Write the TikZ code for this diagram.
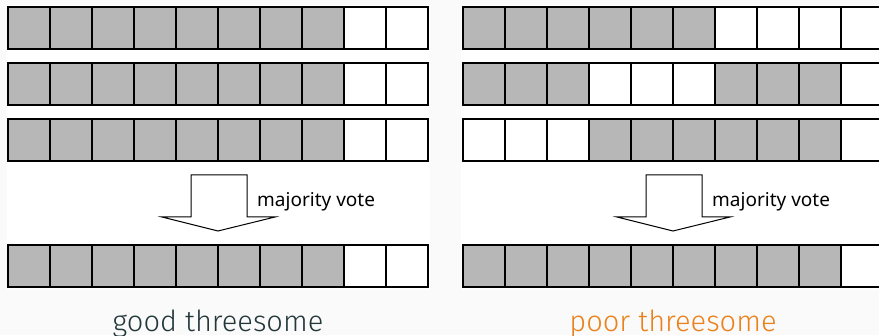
\documentclass[tikz,border=0pt]{standalone}
\usepackage{fontspec}
\setmainfont{Fira Sans}
\newfontfamily\votefont{Noto Sans}
\newfontfamily\capfont{Fira Sans Light}
\usepackage{tikz}
\usetikzlibrary{positioning,calc}
\definecolor{PageBg}{HTML}{FAFAFA}
\definecolor{CellGray}{HTML}{B7B7B7}
\definecolor{TitleDark}{HTML}{23373B}
\definecolor{TitleOrange}{HTML}{EB811B}

\begin{document}
\begin{tikzpicture}[
  x=1pt, y=1pt,
  cell/.style={
    rectangle, draw=black, line width=1.1pt,
    minimum size=42pt, inner sep=0pt, outer sep=0pt
  },
  cell0/.style={fill=white},
  cell1/.style={fill=CellGray},
  vote/.style={draw=black, line width=1pt, fill=white, line join=miter},
  votelbl/.style={font=\votefont\fontsize{19}{22}\selectfont, anchor=base west, inner sep=0pt},
  caption/.style={font=\capfont\fontsize{29}{32}\selectfont, anchor=base, inner sep=0pt}
]

% --- page and panels ---
\fill[PageBg] (0,0) rectangle (879,335);
\useasboundingbox (0,0) rectangle (879,335);
\fill[white] (7,45) rectangle (430,330);
\fill[white] (461,45) rectangle (879,330);

% --- GOOD THREESOME (left) ---
\foreach \r/\y/\pat in {1/307/{1,1,1,1,1,1,1,1,0,0},
                        2/251/{1,1,1,1,1,1,1,1,0,0},
                        3/195/{1,1,1,1,1,1,1,1,0,0},
                        4/69/{1,1,1,1,1,1,1,1,0,0}}
{
  \foreach \v [count=\i] in \pat
  {
    \node[cell, cell\v] (g\r-\i) at (29+42*\i-42, \y) {};
  }
}
\coordinate (gtip) at (218,104);
\draw[vote] (gtip) -- ++(-56,14) -- ++(29,0) -- ++(0,42) -- ++(56,0)
  -- ++(0,-42) -- ++(28,0) -- cycle;
\node[votelbl] (gvote) at (257,128) {majority vote};
\node[caption, text=TitleDark] (good) at (218,4) {good threesome};

% --- POOR THREESOME (right) ---
\foreach \r/\y/\pat in {1/307/{1,1,1,1,1,1,0,0,0,0},
                        2/251/{1,1,1,0,0,0,1,1,1,0},
                        3/195/{0,0,0,1,1,1,1,1,1,0},
                        4/69/{1,1,1,1,1,1,1,1,1,0}}
{
  \foreach \v [count=\i] in \pat
  {
    \node[cell, cell\v] (p\r-\i) at (484+42*\i-42, \y) {};
  }
}
\coordinate (ptip) at (673,104);
\draw[vote] (ptip) -- ++(-56,14) -- ++(29,0) -- ++(0,42) -- ++(56,0)
  -- ++(0,-42) -- ++(28,0) -- cycle;
\node[votelbl] (pvote) at (712,128) {majority vote};
\node[caption, text=TitleOrange] (poor) at (673,4) {poor threesome};

\end{tikzpicture}
\end{document}
